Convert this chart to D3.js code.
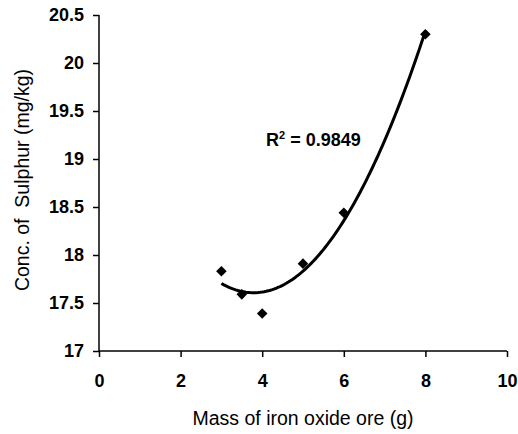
<!DOCTYPE html>
<html>
<head>
<meta charset="utf-8">
<script src="https://cdn.jsdelivr.net/npm/d3@7"></script>
<style>
body { margin: 0; background: #fff; }
svg { font-family: "Liberation Sans", Arial, sans-serif; }
</style>
</head>
<body>
<script>
// data
var massX = [3, 3.5, 4, 5, 6, 8];
var sulphurY = [17.83, 17.59, 17.39, 17.91, 18.44, 20.30];
var xTicks = [0, 2, 4, 6, 8, 10];
var yTicks = [17, 17.5, 18, 18.5, 19, 19.5, 20, 20.5];
var r2Label = "0.9849";

var W = 518, H = 434;
var padL = 99, padR = 507, padT = 15, padB = 351;

var svg = d3.select("body").append("svg")
  .attr("width", W)
  .attr("height", H);

var x = d3.scaleLinear().domain([0, 10]).range([padL, padR]);
var y = d3.scaleLinear().domain([17, 20.5]).range([padB, padT]);

// axes
var xAxis = svg.append("g")
  .attr("transform", "translate(0," + padB + ")")
  .call(d3.axisBottom(x).tickValues(xTicks).tickSize(6).tickPadding(17).tickFormat(d3.format("d")));
var yAxis = svg.append("g")
  .attr("transform", "translate(" + padL + ",0)")
  .call(d3.axisLeft(y).tickValues(yTicks).tickSize(6).tickPadding(9).tickFormat(function(d){ return String(d); }));

[xAxis, yAxis].forEach(function(a){
  a.select(".domain").attr("stroke", "#000").attr("stroke-width", 1.5);
  a.selectAll(".tick line").attr("stroke", "#000").attr("stroke-width", 1.5);
  a.selectAll(".tick text")
    .attr("fill", "#000")
    .style("font-size", "18px")
    .style("font-weight", "bold");
});
xAxis.select(".domain").attr("d", "M" + padL + ",0H" + padR);
yAxis.select(".domain").attr("d", "M0," + padT + "V" + padB);

// quadratic least squares trend (same as the spreadsheet trendline)
function fitQuad(xs, ys){
  var n = xs.length, s = [0,0,0,0,0], t = [0,0,0];
  for (var i=0;i<n;i++){
    var p = 1;
    for (var k=0;k<5;k++){ s[k]+=p; if(k<3) t[k]+=p*ys[i]; p*=xs[i]; }
  }
  var A = [[s[0],s[1],s[2],t[0]],[s[1],s[2],s[3],t[1]],[s[2],s[3],s[4],t[2]]];
  for (var c=0;c<3;c++){
    for (var r=c+1;r<3;r++){
      var f = A[r][c]/A[c][c];
      for (var j=c;j<4;j++) A[r][j]-=f*A[c][j];
    }
  }
  var b = [0,0,0];
  for (var r2=2;r2>=0;r2--){
    var v = A[r2][3];
    for (var j2=r2+1;j2<3;j2++) v-=A[r2][j2]*b[j2];
    b[r2] = v/A[r2][r2];
  }
  return b;
}
var coef = fitQuad(massX, sulphurY);
var xs = d3.range(0, 101).map(function(i){ return d3.min(massX) + i*(d3.max(massX)-d3.min(massX))/100; });

svg.append("path")
  .datum(xs)
  .attr("fill", "none")
  .attr("stroke", "#000")
  .attr("stroke-width", 3)
  .attr("d", d3.line()
    .x(function(d){ return x(d); })
    .y(function(d){ return y(coef[0] + coef[1]*d + coef[2]*d*d); }));

// diamond markers
svg.selectAll(".pt")
  .data(massX)
  .enter()
  .append("path")
  .attr("class", "pt")
  .attr("d", d3.symbol().type(d3.symbolSquare).size(56))
  .attr("transform", function(d, i){ return "translate(" + x(d) + "," + y(sulphurY[i]) + ") rotate(45)"; })
  .attr("fill", "#000");

// R squared label
var lab = svg.append("text")
  .attr("x", 266)
  .attr("y", 146)
  .style("font-size", "18px")
  .style("font-weight", "bold");
lab.append("tspan").text("R");
lab.append("tspan").attr("dy", -7).style("font-size", "11px").text("2");
lab.append("tspan").attr("dy", 7).text(" = " + r2Label);

// axis titles
svg.append("text")
  .attr("x", (padL + padR)/2)
  .attr("y", 425)
  .attr("text-anchor", "middle")
  .style("font-size", "19.5px")
  .text("Mass of iron oxide ore (g)");

svg.append("text")
  .attr("transform", "translate(29,180) rotate(-90)")
  .attr("text-anchor", "middle")
  .style("font-size", "19.5px")
  .style("white-space", "pre")
  .text("Conc. of  Sulphur (mg/kg)");
</script>
</body>
</html>
